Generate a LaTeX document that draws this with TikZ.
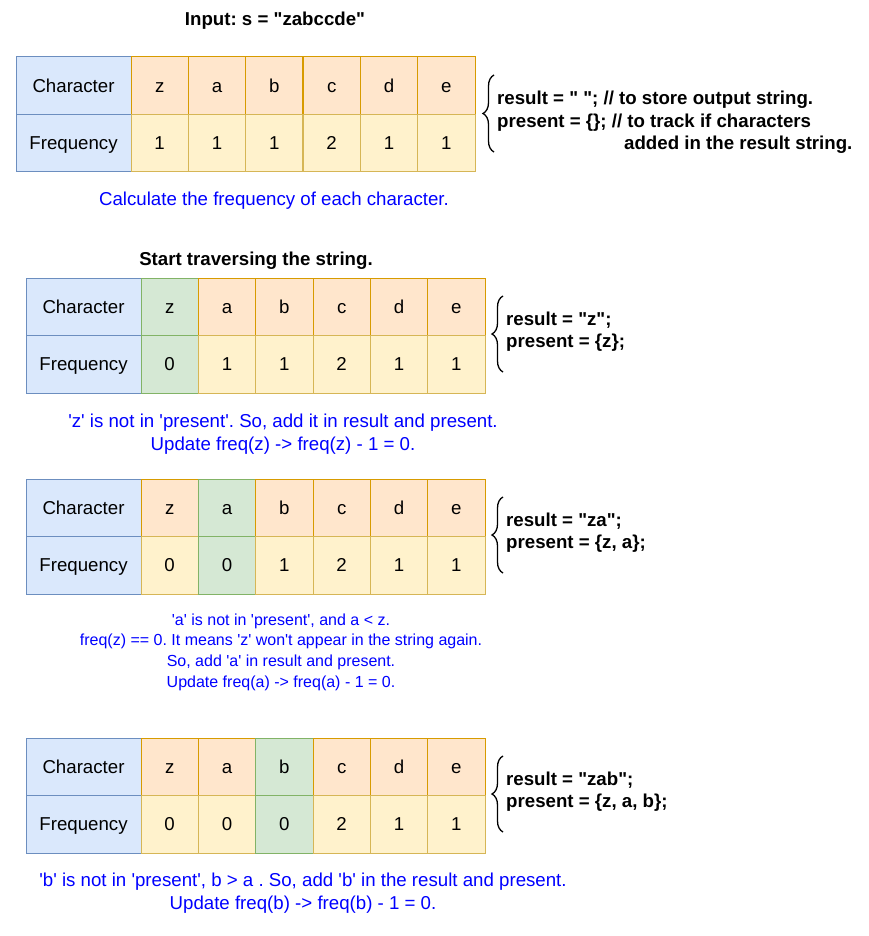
\documentclass[tikz,border=0pt]{standalone}
\usepackage{fontspec}
\setmainfont{Liberation Sans}[Ligatures=TeXOff]
\usetikzlibrary{decorations.pathreplacing}
\frenchspacing

\definecolor{hdrfill}{HTML}{DAE8FC}
\definecolor{hdrline}{HTML}{6C8EBF}
\definecolor{chrfill}{HTML}{FFE6CC}
\definecolor{chrline}{HTML}{D79B00}
\definecolor{frqfill}{HTML}{FFF2CC}
\definecolor{frqline}{HTML}{D6B656}
\definecolor{seenfill}{HTML}{D5E8D4}
\definecolor{seenline}{HTML}{82B366}
\definecolor{noteblue}{HTML}{0000FF}

\newcommand{\bigtext}{\fontsize{18.67}{22.4}\selectfont}
\newcommand{\smalltext}{\fontsize{16}{20.7}\selectfont}

\tikzset{
  cell/.style={minimum height=57.5pt, inner sep=0pt, line width=1pt, font=\bigtext, text height=13.4pt, text depth=0pt},
  hdr/.style={cell, draw=hdrline, fill=hdrfill, minimum width=115pt},
  chr/.style={cell, draw=chrline, fill=chrfill, minimum width=57.33pt},
  frq/.style={cell, draw=frqline, fill=frqfill, minimum width=57.33pt},
  seen/.style={cell, draw=seenline, fill=seenfill, minimum width=57.33pt},
  code/.style={font=\bigtext\bfseries, anchor=west, inner sep=0pt},
  note/.style={font=\bigtext, text=noteblue, align=center, inner sep=0pt},
  title/.style={font=\bigtext\bfseries, inner sep=0pt},
  curly/.style={decorate, decoration={brace, amplitude=11pt}, line width=1.3pt},
}

\begin{document}
\begin{tikzpicture}[x=1pt, y=-1pt]
    \useasboundingbox (0,0) rectangle (869,936);

    \node[title] (input) at (275,21) {Input: s = "zabccde"};

    % table 1: frequency of each character
    \begin{scope}[shift={(16,57)}]
        \node[hdr] (t1h) at (57.5,28.75) {Character};
        \node[hdr] (t1k) at (57.5,86.25) {Frequency};

        \node[chr] (t1c1) at (143.67,28.75) {z};
        \node[chr] (t1c2) at (201,28.75) {a};
        \node[chr] (t1c3) at (258.33,28.75) {b};
        \node[chr] (t1c4) at (315.67,28.75) {c};
        \node[chr] (t1c5) at (373,28.75) {d};
        \node[chr] (t1c6) at (430.33,28.75) {e};

        \node[frq] (t1f1) at (143.67,86.25) {1};
        \node[frq] (t1f2) at (201,86.25) {1};
        \node[frq] (t1f3) at (258.33,86.25) {1};
        \node[frq] (t1f4) at (315.67,86.25) {2};
        \node[frq] (t1f5) at (373,86.25) {1};
        \node[frq] (t1f6) at (430.33,86.25) {1};

        \draw[curly] (478,95) -- (478,18);
        \node[code] (t1r) at (481,43) {result = " "; // to store output string.};
        \node[code] (t1p) at (481,66) {present = \{\}; // to track if characters};
        \node[code] (t1q) at (608,88) {added in the result string.};
    \end{scope}

    \node[note] (calc) at (274,201) {Calculate the frequency of each character.};

    \node[title] (start) at (256,261) {Start traversing the string.};

    % table 2: take z
    \begin{scope}[shift={(26,278)}]
        \node[hdr] (t2h) at (57.5,28.75) {Character};
        \node[hdr] (t2k) at (57.5,86.25) {Frequency};

        \node[seen] (t2c1) at (143.67,28.75) {z};
        \node[chr] (t2c2) at (201,28.75) {a};
        \node[chr] (t2c3) at (258.33,28.75) {b};
        \node[chr] (t2c4) at (315.67,28.75) {c};
        \node[chr] (t2c5) at (373,28.75) {d};
        \node[chr] (t2c6) at (430.33,28.75) {e};

        \node[seen] (t2f1) at (143.67,86.25) {0};
        \node[frq] (t2f2) at (201,86.25) {1};
        \node[frq] (t2f3) at (258.33,86.25) {1};
        \node[frq] (t2f4) at (315.67,86.25) {2};
        \node[frq] (t2f5) at (373,86.25) {1};
        \node[frq] (t2f6) at (430.33,86.25) {1};

        \draw[curly] (477,94) -- (477,18);
        \node[code] (t2r) at (480,42) {result = "z";};
        \node[code] (t2p) at (480,65) {present = \{z\};};
    \end{scope}

    \node[note] (step1) at (283,434) {'z' is not in 'present'. So, add it in result and present.\\
        Update freq(z) -> freq(z) - 1 = 0.};

    % table 3: take a
    \begin{scope}[shift={(26,479)}]
        \node[hdr] (t3h) at (57.5,28.75) {Character};
        \node[hdr] (t3k) at (57.5,86.25) {Frequency};

        \node[chr] (t3c1) at (143.67,28.75) {z};
        \node[seen] (t3c2) at (201,28.75) {a};
        \node[chr] (t3c3) at (258.33,28.75) {b};
        \node[chr] (t3c4) at (315.67,28.75) {c};
        \node[chr] (t3c5) at (373,28.75) {d};
        \node[chr] (t3c6) at (430.33,28.75) {e};

        \node[frq] (t3f1) at (143.67,86.25) {0};
        \node[seen] (t3f2) at (201,86.25) {0};
        \node[frq] (t3f3) at (258.33,86.25) {1};
        \node[frq] (t3f4) at (315.67,86.25) {2};
        \node[frq] (t3f5) at (373,86.25) {1};
        \node[frq] (t3f6) at (430.33,86.25) {1};

        \draw[curly] (477,94) -- (477,18);
        \node[code] (t3r) at (480,42) {result = "za";};
        \node[code] (t3p) at (480,65) {present = \{z, a\};};
    \end{scope}

    \node[note, font=\smalltext] (step2) at (281,652) {'a' is not in 'present', and a < z.\\
        freq(z) == 0. It means 'z' won't appear in the string again.\\
        So, add 'a' in result and present.\\
        Update freq(a) -> freq(a) - 1 = 0.};

    % table 4: take b
    \begin{scope}[shift={(26,738)}]
        \node[hdr] (t4h) at (57.5,28.75) {Character};
        \node[hdr] (t4k) at (57.5,86.25) {Frequency};

        \node[chr] (t4c1) at (143.67,28.75) {z};
        \node[chr] (t4c2) at (201,28.75) {a};
        \node[seen] (t4c3) at (258.33,28.75) {b};
        \node[chr] (t4c4) at (315.67,28.75) {c};
        \node[chr] (t4c5) at (373,28.75) {d};
        \node[chr] (t4c6) at (430.33,28.75) {e};

        \node[frq] (t4f1) at (143.67,86.25) {0};
        \node[frq] (t4f2) at (201,86.25) {0};
        \node[seen] (t4f3) at (258.33,86.25) {0};
        \node[frq] (t4f4) at (315.67,86.25) {2};
        \node[frq] (t4f5) at (373,86.25) {1};
        \node[frq] (t4f6) at (430.33,86.25) {1};

        \draw[curly] (477,94) -- (477,18);
        \node[code] (t4r) at (480,42) {result = "zab";};
        \node[code] (t4p) at (480,65) {present = \{z, a, b\};};
    \end{scope}

    \node[note] (step3) at (303,893) {'b' is not in 'present', b > a . So, add 'b' in the result and present.\\
        Update freq(b) -> freq(b) - 1 = 0.};
\end{tikzpicture}
\end{document}
